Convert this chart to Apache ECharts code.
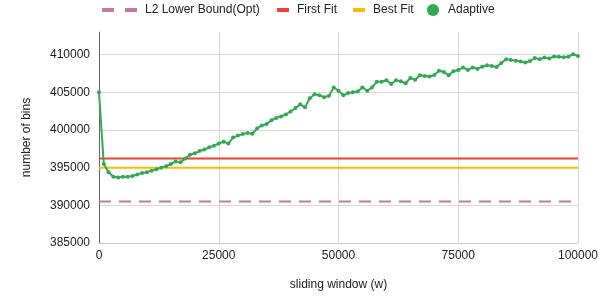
<!DOCTYPE html>
<html>
<head>
<meta charset="utf-8">
<script src="https://cdn.jsdelivr.net/npm/echarts@6/dist/echarts.min.js"></script>
<style>html,body{margin:0;padding:0;background:#fff}#c{width:598px;height:300px}</style>
</head>
<body>
<div id="c"></div>
<script>
var xTicks = [0, 25000, 50000, 75000, 100000];
var yTicks = [385000, 390000, 395000, 400000, 405000, 410000];
var windowSizes = [];
for (var i = 0; i <= 100; i++) windowSizes.push(i * 1000);
var adaptive = [
405000,395500,394400,393800,393700,393800,393800,393900,394100,394300,
394400,394600,394800,395000,395200,395500,395800,395700,396200,396700,
396900,397200,397400,397700,397900,398200,398450,398200,399000,399250,
399450,399600,399500,400200,400600,400800,401300,401600,401800,402050,
402450,402900,403400,403000,404200,404750,404600,404350,404550,405650,
405200,404600,404900,405000,405100,405650,405200,405650,406400,406400,
406600,406100,406600,406450,406200,406900,406650,407250,407150,407100,
407300,407850,407700,407250,407800,407950,408300,407950,408300,408100,
408400,408580,408500,408350,408900,409380,409300,409200,409100,408950,
409150,409550,409400,409600,409500,409750,409700,409650,409700,410050,
409800];
var l2Bound = 390500;
var firstFit = 396200;
var bestFit = 395000;
var seriesNames = ['L2 Lower Bound(Opt)', 'First Fit', 'Best Fit', 'Adaptive'];

var xMin = windowSizes[0], xMax = windowSizes[windowSizes.length - 1];
function flat(v) { return [[xMin, v], [xMax, v]]; }
var adaptiveData = windowSizes.map(function (w, i) { return [w, adaptive[i]]; });

var font = 'Arial, "Liberation Sans", sans-serif';
var chart = echarts.init(document.getElementById('c'), null, {renderer: 'canvas'});
chart.setOption({
  animation: false,
  textStyle: {fontFamily: font},
  grid: {left: 99, right: 20, top: 32, bottom: 57, containLabel: false, outerBoundsMode: 'none'},
  legend: [
    {data: [{name: seriesNames[0], icon: 'path://M0,0h12v4h-12zM23,0h12v4h-12z'}],
     left: 102, top: 4, padding: 0, itemWidth: 35, itemHeight: 4,
     textStyle: {fontSize: 12, color: '#222', fontFamily: font, padding: [0, 0, 0, 3]}},
    {data: [{name: seriesNames[1], icon: 'rect'}, {name: seriesNames[2], icon: 'rect'}],
     left: 277, top: 4, padding: 0, itemWidth: 12, itemHeight: 4, itemGap: 16,
     textStyle: {fontSize: 12, color: '#222', fontFamily: font, padding: [0, 0, 0, 3]}},
    {data: [{name: seriesNames[3], icon: 'circle'}],
     left: 427, top: 4, padding: 0, itemWidth: 12, itemHeight: 12,
     textStyle: {fontSize: 12, color: '#222', fontFamily: font, padding: [0, 0, 0, 4]}}
  ],
  xAxis: {
    type: 'value', min: xTicks[0], max: xTicks[xTicks.length - 1], interval: 25000,
    name: 'sliding window (w)', nameLocation: 'middle', nameGap: 36,
    nameTextStyle: {fontSize: 12, color: '#222', fontFamily: font},
    axisLine: {show: true, lineStyle: {color: '#cccccc', width: 1}},
    axisTick: {show: false},
    axisLabel: {fontSize: 12, color: '#222', margin: 7, fontFamily: font,
      formatter: function (v) { return String(v); }},
    splitLine: {show: true, lineStyle: {color: '#d9d9d9', width: 1}}
  },
  yAxis: {
    type: 'value', min: yTicks[0], max: 413000, interval: 5000,
    name: 'number of bins', nameLocation: 'middle', nameGap: 66,
    nameTextStyle: {fontSize: 12, color: '#222', fontFamily: font},
    axisLine: {show: true, lineStyle: {color: '#666666', width: 1}},
    axisTick: {show: false},
    axisLabel: {fontSize: 12, color: '#222', margin: 9, fontFamily: font, showMaxLabel: false,
      formatter: function (v) { return yTicks.indexOf(v) >= 0 ? String(v) : ''; }},
    splitLine: {show: true, showMaxLine: false, lineStyle: {color: '#d9d9d9', width: 1}}
  },
  series: [
    {name: seriesNames[0], type: 'line', data: flat(l2Bound), symbol: 'none',
     lineStyle: {color: '#c27ba0', width: 2, type: [12, 8]}, itemStyle: {color: '#c27ba0'}, z: 2},
    {name: seriesNames[1], type: 'line', data: flat(firstFit), symbol: 'none',
     lineStyle: {color: '#ea4335', width: 2}, itemStyle: {color: '#ea4335'}, z: 3},
    {name: seriesNames[2], type: 'line', data: flat(bestFit), symbol: 'none',
     lineStyle: {color: '#fbbc04', width: 2}, itemStyle: {color: '#fbbc04'}, z: 3},
    {name: seriesNames[3], type: 'line', data: adaptiveData, symbol: 'circle', symbolSize: 4,
     showAllSymbol: true,
     lineStyle: {color: '#34a853', width: 2}, itemStyle: {color: '#34a853'}, z: 5}
  ]
});
</script>
</body>
</html>
